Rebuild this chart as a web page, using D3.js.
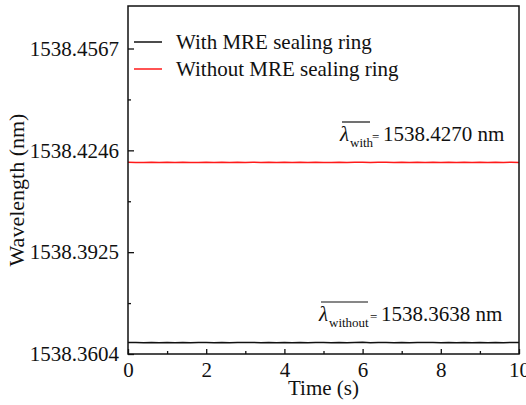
<!DOCTYPE html>
<html>
<head>
<meta charset="utf-8">
<script src="https://cdn.jsdelivr.net/npm/d3@7"></script>
<style>
    body { margin: 0; background: #fff; }
    text { font-family: "Liberation Serif", "Times New Roman", serif; fill: #111; }
</style>
</head>
<body>
<div class="chart-container"></div>
<script>
//Data
const seriesNames = ['With MRE sealing ring', 'Without MRE sealing ring'];
const seriesColors = ['#111', '#ff1a1a'];

const timeValues = [0, 0.2, 0.4, 0.6, 0.8, 1, 1.2, 1.4, 1.6, 1.8, 2, 2.2, 2.4, 2.6, 2.8, 3, 3.2, 3.4, 3.6, 3.8,
    4, 4.2, 4.4, 4.6, 4.8, 5, 5.2, 5.4, 5.6, 5.8, 6, 6.2, 6.4, 6.6, 6.8, 7, 7.2, 7.4, 7.6, 7.8,
    8, 8.2, 8.4, 8.6, 8.8, 9, 9.2, 9.4, 9.6, 9.8, 10];

// black trace (bottom)
const blackValues = [1538.36405, 1538.36400, 1538.36395, 1538.36402, 1538.36398, 1538.36404, 1538.36396, 1538.36401,
    1538.36394, 1538.36400, 1538.36403, 1538.36397, 1538.36401, 1538.36395, 1538.36402, 1538.36399, 1538.36404,
    1538.36396, 1538.36400, 1538.36398, 1538.36403, 1538.36395, 1538.36401, 1538.36397, 1538.36404, 1538.36399,
    1538.36395, 1538.36402, 1538.36398, 1538.36401, 1538.36407, 1538.36396, 1538.36400, 1538.36403, 1538.36397,
    1538.36401, 1538.36395, 1538.36402, 1538.36399, 1538.36404, 1538.36397, 1538.36400, 1538.36395, 1538.36402,
    1538.36398, 1538.36403, 1538.36396, 1538.36400, 1538.36398, 1538.36402, 1538.36399];

// red trace (top)
const redValues = [1538.42085, 1538.42080, 1538.42076, 1538.42083, 1538.42079, 1538.42085, 1538.42077, 1538.42082,
    1538.42074, 1538.42080, 1538.42084, 1538.42078, 1538.42082, 1538.42076, 1538.42083, 1538.42080, 1538.42085,
    1538.42077, 1538.42081, 1538.42079, 1538.42084, 1538.42076, 1538.42082, 1538.42078, 1538.42086, 1538.42080,
    1538.42075, 1538.42083, 1538.42079, 1538.42082, 1538.42084, 1538.42077, 1538.42081, 1538.42085, 1538.42078,
    1538.42082, 1538.42076, 1538.42083, 1538.42080, 1538.42086, 1538.42078, 1538.42081, 1538.42076, 1538.42083,
    1538.42079, 1538.42084, 1538.42077, 1538.42081, 1538.42079, 1538.42083, 1538.42080];

const yMajorTicks = [1538.3604, 1538.3925, 1538.4246, 1538.4567];
const yTickLabels = ['1538.3604', '1538.3925', '1538.4246', '1538.4567'];
const yMinorTicks = [1538.37645, 1538.40855, 1538.44065];
const xMajorTicks = [0, 2, 4, 6, 8, 10];
const xMinorTicks = [1, 3, 5, 7, 9];

const meanWith = '1538.4270 nm';
const meanWithout = '1538.3638 nm';

//Canvas
const svg_width = 526;
const svg_height = 405;
const chart_margin = { top: 6, right: 7, bottom: 51, left: 128 };
const chart_width = svg_width - (chart_margin.left + chart_margin.right);
const chart_height = svg_height - (chart_margin.top + chart_margin.bottom);

const svg = d3.select('.chart-container').append('svg')
    .attr('width', svg_width).attr('height', svg_height);
const g = svg.append('g')
    .attr('transform', `translate(${chart_margin.left},${chart_margin.top})`);

const xScale = d3.scaleLinear().domain([0, 10]).range([0, chart_width]);
const yScale = d3.scaleLinear().domain([1538.3604, 1538.4701]).range([chart_height, 0]);

// traces
const line = d3.line()
    .x((d, i) => xScale(timeValues[i]))
    .y(d => yScale(d));

[blackValues, redValues].forEach((vals, i) => {
    g.append('path')
        .datum(vals)
        .attr('d', line)
        .attr('fill', 'none')
        .attr('stroke', seriesColors[i])
        .attr('stroke-width', 1.5);
});

// axes (ticks pointing inward)
const xAxis = d3.axisBottom(xScale).tickValues(xMajorTicks)
    .tickFormat(d3.format('d')).tickSizeInner(-5).tickSizeOuter(0).tickPadding(8);
const xMinor = d3.axisBottom(xScale).tickValues(xMinorTicks)
    .tickFormat('').tickSizeInner(-3).tickSizeOuter(0);
const yAxis = d3.axisLeft(yScale).tickValues(yMajorTicks)
    .tickFormat((d, i) => yTickLabels[i]).tickSizeInner(-6).tickSizeOuter(0).tickPadding(9);
const yMinor = d3.axisLeft(yScale).tickValues(yMinorTicks)
    .tickFormat('').tickSizeInner(-3).tickSizeOuter(0);

[[xAxis, 'x'], [xMinor, 'x'], [yAxis, 'y'], [yMinor, 'y']].forEach(([ax, k]) => {
    const a = g.append('g')
        .attr('transform', k === 'x' ? `translate(0,${chart_height})` : null)
        .call(ax);
    a.select('.domain').remove();
    a.selectAll('line').attr('stroke', '#111').attr('stroke-width', 1.3);
    a.selectAll('text').style('font-size', '21px').style('font-family', '"Liberation Serif", serif').attr('fill', '#111');
});

// frame
g.append('rect')
    .attr('width', chart_width).attr('height', chart_height)
    .attr('fill', 'none').attr('stroke', '#111').attr('stroke-width', 1.5);

// axis titles
svg.append('text')
    .attr('x', chart_margin.left + chart_width / 2).attr('y', 395)
    .attr('text-anchor', 'middle').style('font-size', '21px')
    .text('Time (s)');
svg.append('text')
    .attr('transform', `translate(24,${chart_margin.top + chart_height / 2 + 10}) rotate(-90)`)
    .attr('text-anchor', 'middle').style('font-size', '22px')
    .text('Wavelength (nm)');

// legend
const legend = g.append('g').attr('transform', 'translate(6,36)');
seriesNames.forEach((name, i) => {
    const row = legend.append('g').attr('transform', `translate(0,${i * 27})`);
    row.append('line').attr('x1', 0).attr('x2', 28).attr('y1', 0).attr('y2', 0)
        .attr('stroke', seriesColors[i]).attr('stroke-width', 1.5);
    row.append('text').attr('x', 42).attr('y', 7).style('font-size', '21px').text(name);
});

// mean annotations
function addMean(x, y, sub, subWidth, value) {
    const a = svg.append('g').attr('transform', `translate(${x},${y})`);
    a.append('text').attr('x', 0).attr('y', 0)
        .style('font-size', '21px').style('font-style', 'italic').text('λ');
    a.append('text').attr('x', 10).attr('y', 6)
        .style('font-size', '13px').text(sub);
    a.append('line').attr('x1', 2).attr('x2', 10 + subWidth).attr('y1', -19).attr('y2', -19)
        .attr('stroke', '#111').attr('stroke-width', 1.2);
    a.append('text').attr('x', 12 + subWidth).attr('y', 0)
        .style('font-size', '13px').text('=');
    a.append('text').attr('x', 21 + subWidth + 2).attr('y', 0)
        .style('font-size', '21px').text(value);
}
addMean(340, 141, 'with', 20, meanWith);
addMean(319, 321, 'without', 39, meanWithout);
</script>
</body>
</html>
